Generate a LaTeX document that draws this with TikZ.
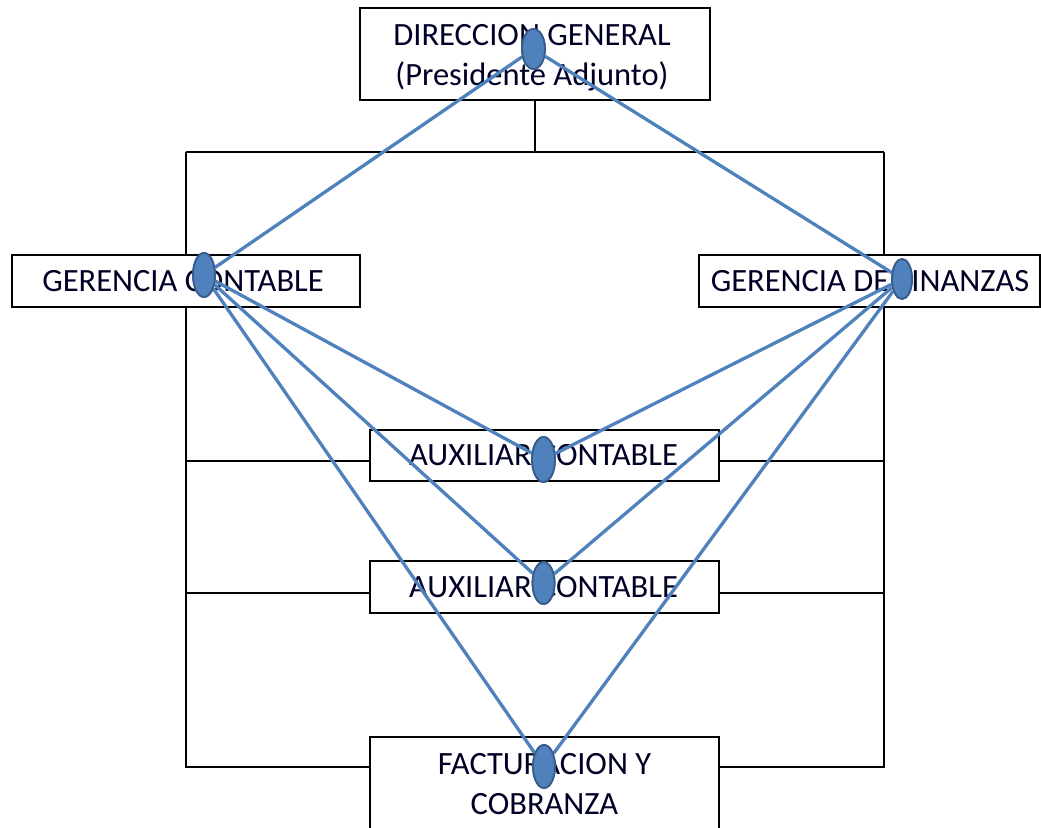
\documentclass[tikz,border=0pt]{standalone}
\usepackage{fontspec}
\setmainfont{Carlito}
\usetikzlibrary{shapes.geometric}
\definecolor{nodeblue}{HTML}{4F81BD}
\definecolor{edgeblue}{HTML}{385D8A}
\begin{document}
\begin{tikzpicture}[x=1pt,y=-1pt,
  box/.style={draw=black, line width=1.3pt, fill=white, inner sep=0pt},
  lbl/.style={inner sep=0pt, align=center, font=\fontsize{32.5}{40}\selectfont, text=black!85!blue},
  org/.style={draw=black, line width=1.3pt},
  dot/.style={ellipse, draw=edgeblue, line width=1.8pt, fill=nodeblue, inner sep=0pt},
  link/.style={draw=nodeblue, line width=3.3pt}]
\useasboundingbox (0,0) rectangle (1041,827);
% boxes
\node[box, minimum width=350pt, minimum height=92pt] (dg) at (535,54) {};
\node[box, minimum width=348pt, minimum height=52pt] (gc) at (186,281) {};
\node[box, minimum width=341pt, minimum height=52pt] (gf) at (869.5,281) {};
\node[box, minimum width=349pt, minimum height=51pt] (a1) at (544.5,455.5) {};
\node[box, minimum width=349pt, minimum height=52pt] (a2) at (544.5,587) {};
\node[box, minimum width=349pt, minimum height=100pt] (fc) at (544.5,787) {};
% labels
\node[lbl] (dgt) at (532,58) {DIRECCION GENERAL\\(Presidente Adjunto)};
\node[lbl] (gct) at (183,281) {GERENCIA CONTABLE};
\node[lbl] (gft) at (870,281) {GERENCIA DE FINANZAS};
\node[lbl] (a1t) at (543.5,455) {AUXILIAR CONTABLE};
\node[lbl] (a2t) at (543.5,587) {AUXILIAR CONTABLE};
\node[lbl] (fct) at (544.5,784) {FACTURACION Y\\COBRANZA};
% org lines
\coordinate (hl) at (186,152);
\coordinate (hr) at (884,152);
\coordinate (bl) at (186,767);
\coordinate (br) at (884,767);
\draw[org] (dg.south) -- (dg.south |- hl);
\draw[org] (hl) -- (hr);
\draw[org] (hl) -- (gc.north);
\draw[org] (hr) -- (hr |- gf.north);
\draw[org] (gc.south) -- (bl) -- (bl -| fc.west);
\draw[org] (hr |- gf.south) -- (br) -- (br -| fc.east);
\coordinate (r1) at (186,461);
\coordinate (r2) at (186,593);
\draw[org] (r1) -- (r1 -| a1.west);
\draw[org] (r1 -| a1.east) -- (r1 -| hr);
\draw[org] (r2) -- (r2 -| a2.west);
\draw[org] (r2 -| a2.east) -- (r2 -| hr);
% ellipses
\node[dot, minimum width=23pt, minimum height=40pt] (e0) at (533.5,49) {};
\node[dot, minimum width=22pt, minimum height=44pt] (e1) at (204,275) {};
\node[dot, minimum width=20pt, minimum height=40pt] (e2) at (902,279) {};
\node[dot, minimum width=23pt, minimum height=45pt] (e3) at (543.5,459.5) {};
\node[dot, minimum width=22pt, minimum height=42pt] (e4) at (543.5,583) {};
\node[dot, minimum width=22pt, minimum height=43pt] (e5) at (544,766.5) {};
% blue links
\draw[link] (e0) -- (e1);
\draw[link] (e0) -- (e2);
\draw[link] (e1) -- (e3);
\draw[link] (e1) -- (e4);
\draw[link] (e1) -- (e5);
\draw[link] (e2) -- (e3);
\draw[link] (e2) -- (e4);
\draw[link] (e2) -- (e5);
% ellipses drawn again above the links
\node[dot, minimum width=23pt, minimum height=40pt] at (e0) {};
\node[dot, minimum width=22pt, minimum height=44pt] at (e1) {};
\node[dot, minimum width=20pt, minimum height=40pt] at (e2) {};
\node[dot, minimum width=23pt, minimum height=45pt] at (e3) {};
\node[dot, minimum width=22pt, minimum height=42pt] at (e4) {};
\node[dot, minimum width=22pt, minimum height=43pt] at (e5) {};
\end{tikzpicture}
\end{document}
